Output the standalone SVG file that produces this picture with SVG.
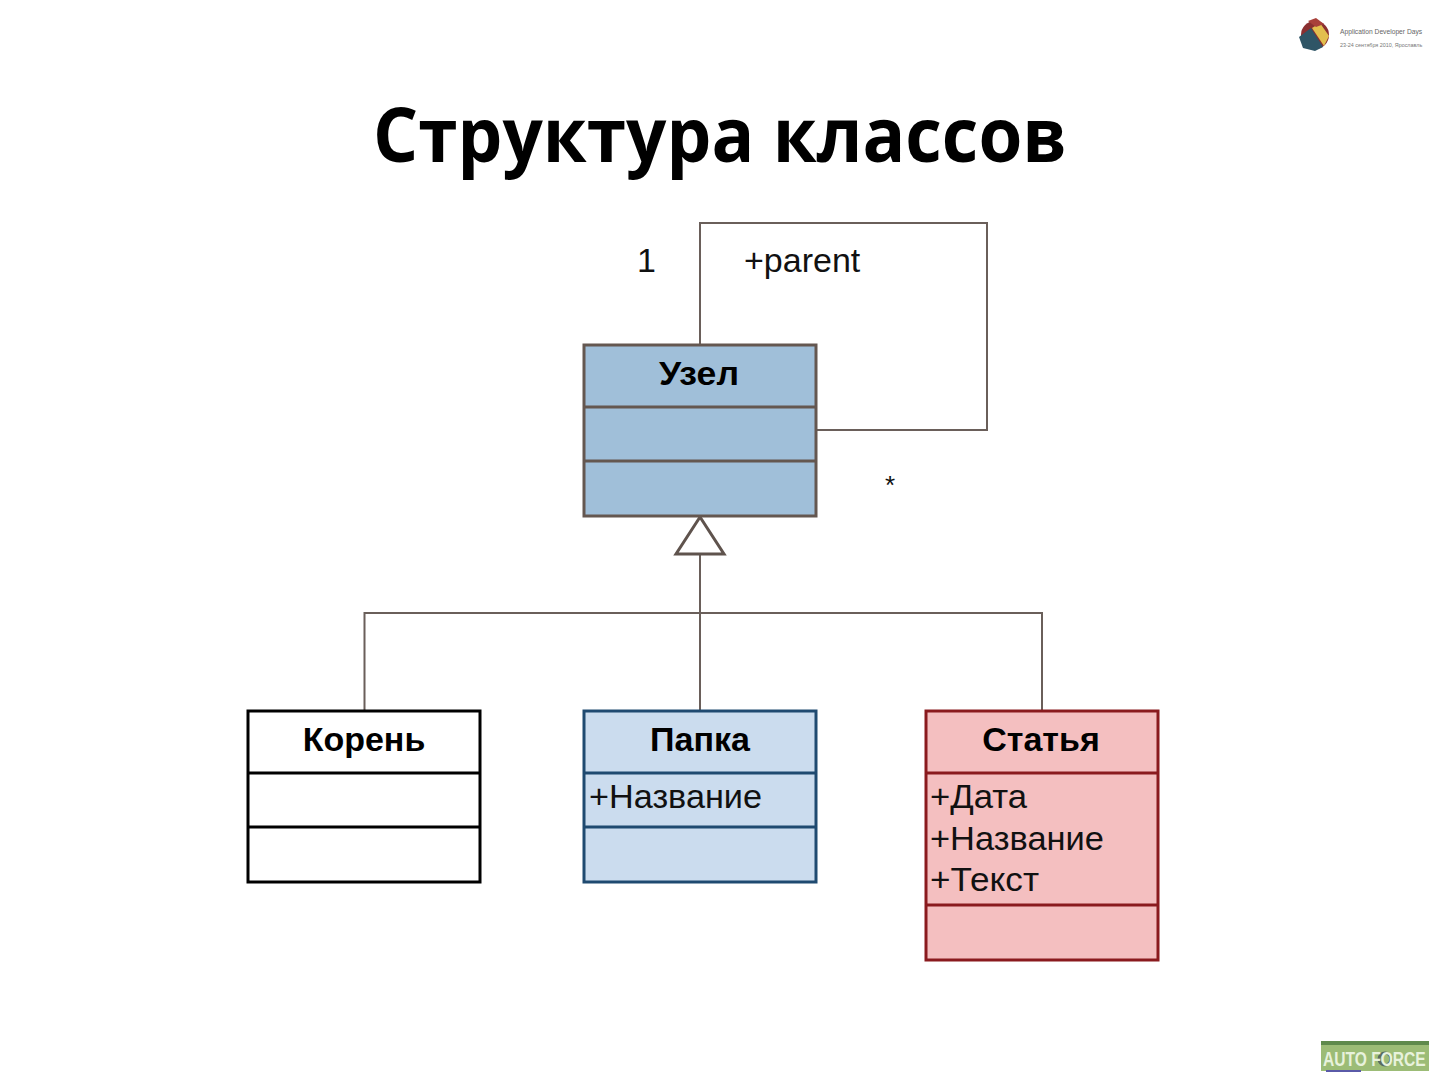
<svg xmlns="http://www.w3.org/2000/svg" width="1440" height="1080" viewBox="0 0 1440 1080">
<style>
.s{font-family:"Liberation Sans",Arial,sans-serif;font-size:34px;fill:#111}
.h{font-family:"Liberation Sans",Arial,sans-serif;font-size:34px;font-weight:bold;fill:#000;text-anchor:middle}
.c{fill:none;stroke:#6a5f5a;stroke-width:2}
.b{stroke-width:3}
.g{stroke:#645750;fill:#a0bfd9}
.k{stroke:#000;fill:#fff}
.p{stroke:#1f4a70;fill:#cbdcee}
.r{stroke:#8a1a1e;fill:#f4bfc0}
</style>
<rect width="1440" height="1080" fill="#fff"/>
<text id="title" x="373" y="162" textLength="694" lengthAdjust="spacingAndGlyphs" style="font-family:'Open Sans','Noto Sans',sans-serif;font-weight:bold;font-size:75px;fill:#000">Структура классов</text>
<g id="logo-top">
<circle cx="1315" cy="35" r="14" fill="#8a2f30"/>
<path d="M1299 37l12-9 12 19-8 4-12-3z" fill="#2f5566"/>
<path d="M1312 28l8-5 9 13-5 10z" fill="#e2bf4e"/>
<path d="M1308 21l8-3 8 6-8 3z" fill="#a8403a"/>
<text x="1340" y="34" style="font-family:'Liberation Sans',sans-serif;font-size:6.700px;fill:#666">Application Developer Days</text>
<text x="1340" y="47" style="font-family:'Liberation Sans',sans-serif;font-size:5.400px;fill:#777">23-24 сентября 2010, Ярославль</text>
</g>
<g id="logo-bottom">
<rect x="1321" y="1042" width="108" height="29" fill="#9cbc76"/>
<rect x="1321" y="1041" width="108" height="4" fill="#5f8a4c"/>
<rect x="1326" y="1070" width="35" height="2" fill="#5a5aa8"/>
<circle cx="1385" cy="1059" r="6" fill="none" stroke="#5a6a60" stroke-width="3"/>
<text transform="translate(1323 1066) scale(.78 1)" style="font-family:'Liberation Sans',sans-serif;font-size:20px;font-weight:bold;fill:#e8f2dc">AUTO FORCE</text>
</g>
<g id="connectors">
<path class="c" d="M700 345V223H987V430H817"/>
<path class="c" d="M700 554V710M364.500 710V613H1042V710"/>
<path d="M700 517L676 554H724Z" fill="#fff" stroke="#5f534d" stroke-width="3"/>
</g>
<g id="labels">
<text x="637" y="272" class="s">1</text>
<text x="744" y="272" class="s">+parent</text>
<text x="885" y="494" style="font-family:'Liberation Sans',sans-serif;font-size:26px;fill:#111">*</text>
</g>
<g id="uzel">
<rect class="g b" x="584" y="345" width="232" height="171"/>
<path class="g b" d="M584 407H816M584 461H816"/>
<text class="h" x="699" y="385" textLength="80" lengthAdjust="spacingAndGlyphs">Узел</text>
</g>
<g id="koren">
<rect class="k b" x="248" y="711" width="232" height="171"/>
<path class="k b" d="M248 773H480M248 827H480"/>
<text class="h" x="364" y="751">Корень</text>
</g>
<g id="papka">
<rect class="p b" x="584" y="711" width="232" height="171"/>
<path class="p b" d="M584 773H816M584 827H816"/>
<text class="h" x="700" y="751">Папка</text>
<text class="s" x="589" y="808" textLength="173" lengthAdjust="spacingAndGlyphs">+Название</text>
</g>
<g id="statya">
<rect class="r b" x="926" y="711" width="232" height="249"/>
<path class="r b" d="M926 773H1158M926 905H1158"/>
<text class="h" x="1041" y="751">Статья</text>
<text class="s" x="930" y="808" textLength="97" lengthAdjust="spacingAndGlyphs">+Дата</text>
<text class="s" x="930" y="850" textLength="174" lengthAdjust="spacingAndGlyphs">+Название</text>
<text class="s" x="930" y="891" textLength="109" lengthAdjust="spacingAndGlyphs">+Текст</text>
</g>
</svg>
